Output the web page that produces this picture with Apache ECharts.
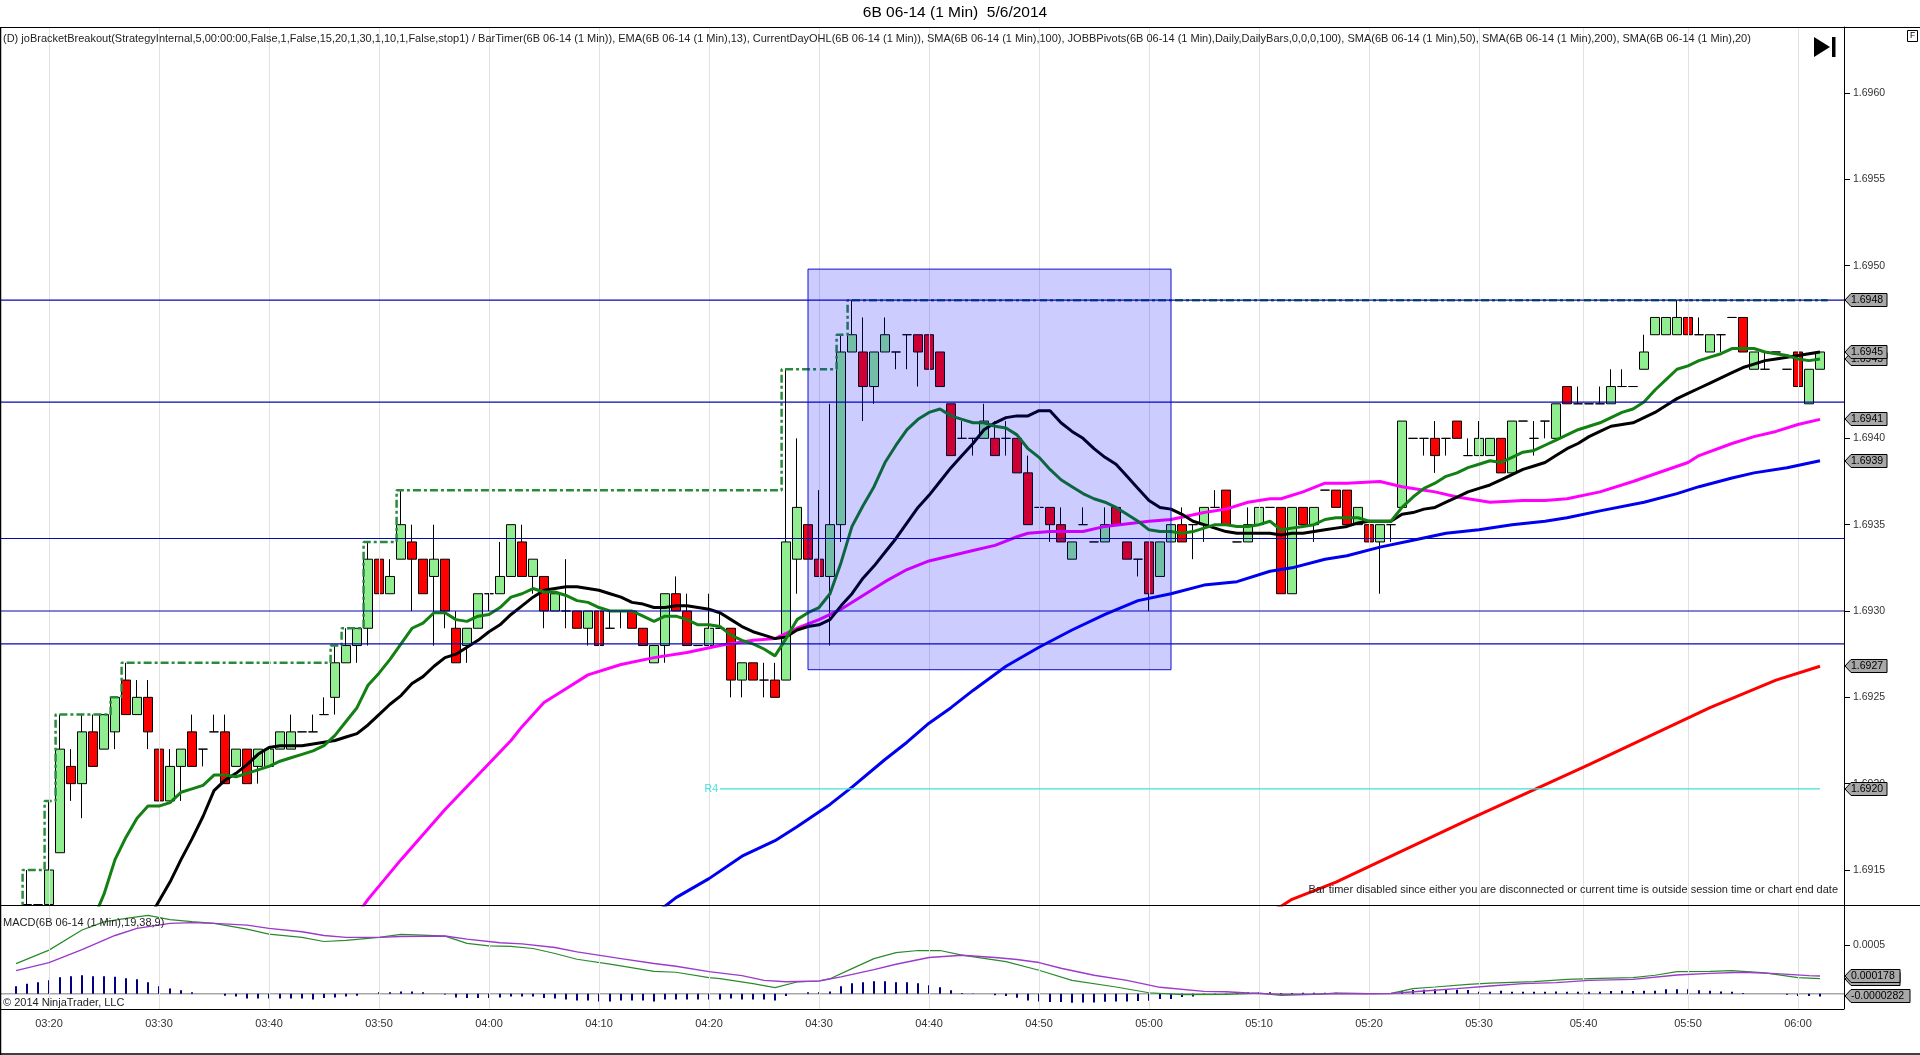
<!DOCTYPE html>
<html><head><meta charset="utf-8"><title>6B 06-14</title>
<style>html,body{margin:0;padding:0;background:#fff}#c{width:1920px;height:1055px}</style>
<script src="https://cdn.jsdelivr.net/npm/echarts@6/dist/echarts.min.js"></script></head>
<body><div id="c"></div>
<script>
// Prices are stored as offsets, in 0.0001 units, above 1.6900
const opens=[13,13,13,16,21,20,23,22,23,26,24,25,22,19,21,23,22,23,23,21,22,21,21,22,22,23,23,24,25,27,28,29,33,31,33,34,33,32,33,29,28,29,31,31,32,34,32,32,30,30,30,29,30,29,30,30,29,27,28,31,30,28,28,29,29,26,27,26,26,26,33,35,33,32,35,45,45,43,45,45,46,46,46,45,42,40,40,40,40,40,40,38,36,36,35,33,35,34,34,36,34,33,34,32,34,35,35,35,36,37,34,34,35,36,36,31,36,35,37,37,37,35,35,34,35,36,40,40,40,40,41,39,39,39,40,38,41,40,41,40,43,42,42,42,42,43,43,44,46,46,46,47,46,45,46,47,47,44,44,45,44,45,42,44];
const closes=[13,13,15,22,20,23,21,24,25,24,25,23,19,21,22,21,22,23,20,22,20,22,22,23,23,23,23,24,27,28,29,33,31,32,35,33,31,33,30,27,29,31,31,32,35,32,33,30,31,30,29,30,28,29,30,29,28,28,31,30,28,28,29,29,26,27,26,26,25,34,36,33,32,35,45,46,43,45,46,45,46,45,44,43,39,40,40,41,39,40,38,35,36,35,34,34,35,34,35,35,33,33,31,34,35,34,35,36,36,35,34,35,36,36,31,36,35,36,37,36,35,36,34,35,35,41,40,40,39,40,40,39,40,40,38,41,41,40,41,42,42,42,42,42,43,43,43,45,47,47,47,46,46,46,46,47,45,45,44,45,44,43,44,45];
const highs=[15,13,19,24,22,24,24,24,25,27,26,26,22,22,22,24,22,24,24,22,22,22,22,23,24,23,24,25,28,29,29,34,33,33,37,35,33,35,33,30,29,31,31,34,35,35,33,32,31,33,30,30,30,30,30,30,29,28,31,32,31,28,31,30,29,27,27,27,27,44,40,35,37,42,46,48,47,45,47,45,46,46,46,45,42,41,40,42,41,41,40,39,36,36,36,34,36,34,36,36,34,33,34,34,35,36,35,36,37,37,34,36,36,36,36,36,36,36,37,37,37,36,35,35,35,41,40,40,41,40,41,40,41,40,40,41,41,41,41,42,43,43,42,43,44,44,43,46,47,47,48,47,47,46,46,47,47,45,45,45,44,45,44,45];
const lows=[13,13,13,16,19,18,21,22,22,24,24,22,19,19,19,21,21,23,20,21,20,20,21,22,22,23,23,24,24,27,27,28,31,31,33,30,31,28,29,27,27,29,30,31,32,32,31,29,30,29,29,28,28,29,29,29,28,27,27,30,28,28,28,29,25,25,26,25,25,26,31,33,32,28,34,45,41,42,45,44,44,43,44,43,39,40,39,40,39,39,38,35,36,34,34,33,35,34,34,35,33,32,30,32,34,34,33,34,36,35,34,34,35,36,31,31,35,34,37,36,35,35,34,31,34,36,40,39,38,39,40,39,39,39,38,38,41,39,40,40,42,42,42,42,42,43,43,44,46,46,46,46,46,45,45,47,45,44,44,45,44,43,42,44];
const greenStart=7;
const greenLine=[12.1,13.6,15.6,16.9,18.0,18.7,18.7,18.9,19.5,19.7,19.9,20.5,20.5,20.4,20.6,20.8,21.0,21.3,21.5,21.7,21.9,22.2,22.8,23.6,24.4,25.7,26.4,27.2,28.1,29.0,29.3,29.9,29.9,29.5,29.4,29.7,29.8,30.2,30.8,31.0,31.3,31.1,31.1,30.9,30.6,30.5,30.2,30.0,30.0,30.0,29.7,29.4,29.7,29.7,29.5,29.2,29.2,29.1,28.6,28.3,28.1,27.8,27.4,28.4,29.5,29.9,30.2,31.0,32.8,34.9,36.1,37.2,38.6,39.6,40.5,41.1,41.5,41.7,41.3,41.1,40.9,40.9,40.7,40.6,40.2,39.4,38.9,38.2,37.6,37.2,36.8,36.5,36.3,36.0,35.6,35.2,34.7,34.6,34.6,34.5,34.6,34.8,35.0,35.0,34.9,34.9,35.0,35.2,34.7,34.8,34.9,35.0,35.3,35.4,35.4,35.4,35.2,35.2,35.2,36.0,36.6,37.1,37.4,37.8,38.0,38.3,38.5,38.7,38.6,38.9,39.2,39.3,39.6,39.9,40.2,40.5,40.7,40.9,41.2,41.5,41.7,42.1,42.8,43.4,44.0,44.2,44.5,44.7,44.9,45.2,45.2,45.2,45.0,44.9,44.8,44.6,44.5,44.6];
const blackStart=12;
const blackLine=[12.1,13.2,14.3,15.6,16.8,18.1,19.6,20.2,20.6,21.1,21.7,22.1,22.2,22.2,22.2,22.3,22.4,22.5,22.7,22.9,23.4,24.0,24.6,25.1,25.8,26.2,26.8,27.3,27.5,27.9,28.3,28.8,29.2,29.8,30.3,30.8,31.2,31.3,31.4,31.4,31.3,31.2,31.0,30.8,30.5,30.4,30.2,30.2,30.3,30.3,30.2,30.1,29.9,29.5,29.1,28.8,28.6,28.4,28.5,28.9,29.1,29.2,29.5,30.3,31.0,31.9,32.6,33.4,34.2,35.1,36.0,36.7,37.5,38.3,39.0,39.7,40.5,40.9,41.2,41.3,41.3,41.6,41.6,40.9,40.4,40.0,39.4,38.9,38.5,37.8,37.1,36.4,36.0,35.9,35.6,35.2,35.0,34.8,34.6,34.5,34.5,34.5,34.5,34.4,34.5,34.5,34.6,34.7,34.8,34.9,35.1,35.2,35.2,35.2,35.6,35.7,35.9,36.0,36.3,36.6,36.9,37.1,37.3,37.6,37.9,38.2,38.4,38.6,39.0,39.4,39.7,40.1,40.4,40.7,40.8,40.9,41.2,41.5,41.9,42.3,42.6,42.9,43.2,43.5,43.8,44.1,44.3,44.5,44.6,44.7,44.8,44.9,45.0];
const magentaSlots=[31,32,35,39,42,45,46,48,50,52,55,58,61,64,67,69,71,73,75,77,79,81,83,85,87,89,91,92,94,97,99,103,105,108,110,112,114,115,117,119,121,124,126,127,129,131,134,137,139,141,144,147,152,153,156,158,160,162,164];
const magentaLine=[12.4,13.3,15.6,18.5,20.5,22.5,23.3,24.7,25.5,26.3,26.9,27.3,27.6,28.0,28.3,28.4,29.0,29.5,30.1,30.9,31.7,32.4,32.9,33.2,33.5,33.8,34.3,34.5,34.6,34.6,34.9,35.2,35.3,35.7,35.9,36.3,36.5,36.5,36.9,37.4,37.4,37.5,37.2,37.1,36.9,36.6,36.3,36.4,36.4,36.5,36.9,37.5,38.6,39.0,39.7,40.1,40.4,40.8,41.1];
const blueSlots=[58,59,60,63,66,69,71,74,76,79,81,83,85,87,90,93,96,99,102,105,108,111,114,116,119,121,124,127,130,133,136,139,141,144,148,151,153,156,158,161,164];
const blueLine=[12.5,12.9,13.4,14.5,15.8,16.7,17.5,18.8,19.8,21.4,22.4,23.5,24.4,25.4,26.8,27.9,28.9,29.8,30.6,31.0,31.5,31.7,32.3,32.5,33.0,33.2,33.7,34.1,34.5,34.7,35.0,35.2,35.4,35.8,36.3,36.8,37.2,37.7,38.0,38.3,38.7];
const redSlots=[114,115,116,120,124,132,143,154,160,164];
const redLine=[12.6,12.9,13.3,14.3,15.5,17.9,21.1,24.4,26.0,26.8];
const dayHighSlots=[-0.4,0.6,2.6,3.6,8.6,9.6,28.6,29.6,31.6,34.6,69.6,74.6,75.6,164.7];
const dayHigh=[12,15,19,24,25,27,28,29,34,37,44,46,48,48];
const pivotLevels=[1.6948,1.69421,1.69342,1.6930,1.69281];
const r4Level=1.69197, r4Slots=[64,164];
const rangeSlots=[72,105], rangePrices=[1.69266,1.69498];
const yTicks=[1.6915,1.692,1.6925,1.693,1.6935,1.694,1.6945,1.695,1.6955,1.696];
const macdTicks=[0.0005];
const timeSlots=[3,13,23,33,43,53,63,73,83,93,103,113,123,133,142.5,152,162];
const timeLabels=['03:20','03:30','03:40','03:50','04:00','04:10','04:20','04:30','04:40','04:50','05:00','05:10','05:20','05:30','05:40','05:50','06:00'];
const priceTags=[1.6948,1.69446,1.6945,1.69411,1.69387,1.69268,1.69197];
const priceTagText=['1.6948','1.6945','1.6945','1.6941','1.6939','1.6927','1.6920'];
const macdTags=[0.000155,0.000178,-0.0000282];
const macdTagText=['0.000155','0.000178','-0.0000282'];
// MACD panel values in 0.0001 units
const macdSlots=[0,3,6,8,10,12,14,16,18,21,23,26,28,30,33,35,37,39,41,43,45,47,49,51,54,58,60,63,64,67,69,71,73,74,76,78,80,82,84,86,90,93,96,100,103,106,110,113,115,118,120,123,125,127,129,132,134,138,141,144,147,149,151,154,156,159,162,164];
const macdLine=[3.1,4.49,6.56,7.4,7.76,8.07,7.63,7.42,7.25,6.66,6.14,5.8,5.38,5.49,5.8,6.11,6.04,5.94,5.18,4.93,4.87,4.66,4.14,3.55,3.04,2.31,2.21,1.66,1.55,1.04,0.62,1.21,1.31,1.55,2.59,3.62,4.24,4.45,4.45,3.97,3.31,2.42,1.38,0.69,0.10,-0.1,-0.07,0.07,-0.17,-0.07,0.07,0,0.03,0.52,0.69,0.97,1.1,1.24,1.48,1.59,1.66,1.9,2.28,2.31,2.38,2.14,1.66,1.55];
const avgSlots=[0,3,6,9,11,14,16,18,21,23,26,28,30,33,35,39,41,44,46,49,51,55,58,60,63,66,68,70,73,75,78,80,83,86,89,91,93,95,98,101,104,108,110,112,115,118,120,123,125,128,131,134,137,140,143,147,151,154,157,160,163,164];
const avgLine=[2.38,3.21,4.55,6.0,6.73,7.25,7.32,7.25,7.07,6.73,6.38,6.0,5.8,5.8,5.9,5.94,5.62,5.25,5.14,4.76,4.31,3.62,3.11,2.83,2.28,1.86,1.38,1.24,1.31,1.73,2.48,3.04,3.73,3.97,3.73,3.52,3.21,2.62,1.9,1.38,0.66,0.24,0.21,0.07,-0.07,-0.07,0.03,0,0.03,0.28,0.52,0.79,1.04,1.14,1.38,1.48,1.93,2.1,2.21,2.07,1.86,1.83];
const histValues=[0.76,1.04,1.17,1.38,1.69,1.79,1.9,1.79,1.79,1.76,1.59,1.48,1.17,0.76,0.55,0.35,0.14,0,0,-0.2,-0.28,-0.48,-0.48,-0.48,-0.48,-0.48,-0.48,-0.59,-0.45,-0.38,-0.28,-0.2,0,0.14,0.14,0.24,0.24,0.14,0,-0.07,-0.38,-0.45,-0.45,-0.45,-0.38,-0.28,-0.28,-0.28,-0.45,-0.48,-0.59,-0.69,-0.69,-0.79,-0.79,-0.69,-0.69,-0.69,-0.79,-0.59,-0.59,-0.59,-0.59,-0.59,-0.59,-0.48,-0.59,-0.59,-0.59,-0.69,-0.24,0,0.14,0.14,0.24,0.76,1.07,1.17,1.28,1.28,1.17,1.17,1.07,0.86,0.66,0.35,0.07,0.03,0,-0.17,-0.24,-0.41,-0.69,-0.79,-0.86,-0.86,-0.93,-0.9,-0.9,-0.83,-0.79,-0.79,-0.76,-0.72,-0.55,-0.55,-0.35,-0.28,-0.14,-0.03,0.03,0.1,0.14,0.14,0.14,0.07,0.07,0.1,0.1,0.1,0.1,0.07,0.07,0.07,0.07,0.07,0.28,0.38,0.41,0.45,0.48,0.41,0.38,0.21,0.21,0.31,0.21,0.21,0.21,0.21,0.24,0.21,0.21,0.21,0.21,0.28,0.31,0.28,0.3,0.31,0.45,0.45,0.45,0.35,0.31,0.24,0.21,0.07,0,0,0,-0.1,-0.24,-0.24,-0.28];

const FONT='"Liberation Sans",Arial,sans-serif';
const xMin=-16/11, xMax=1828/11;
const px=v=>(16900+v)/10000;
const e4=v=>v/10000;
const candles=opens.map((o,i)=>[i+1,px(o),px(closes[i]),px(lows[i]),px(highs[i])]);
const seq=(start,arr,f)=>arr.map((v,i)=>[start+i,f(v)]);
const pairs=(sl,arr,f)=>arr.map((v,i)=>[sl[i],f(v)]);
const lineS=(name,data,color,width,z,extra)=>Object.assign({name,type:'line',data,showSymbol:false,symbol:'none',silent:true,animation:false,z,lineStyle:{color,width}},extra||{});

function tagSeries(name,xIdx,yIdx,vals,texts,rightEdges){
  return {type:'custom',name,xAxisIndex:xIdx,yAxisIndex:yIdx,silent:true,animation:false,z:20,clip:false,
    data:vals.map((v,i)=>[i,v]),encode:{x:-1,y:1},
    renderItem(p,api){
      const i=api.value(0), pt=api.coord([xMax,api.value(1)]);
      const x=pt[0]+1,y=Math.round(pt[1]),w=rightEdges(texts[i]);
      return {type:'group',children:[
        {type:'polygon',shape:{points:[[x,y],[x+6,y-6.5],[x+w,y-6.5],[x+w,y+6.5],[x+6,y+6.5]]},style:{fill:'#a8a8a8',stroke:'#000',lineWidth:1}},
        {type:'text',style:{text:texts[i],x:x+6,y:y,font:'10.5px '+FONT,fill:'#000',textVerticalAlign:'middle',textAlign:'left'}}
      ]};
    }};
}
const gridStyle={color:'#e2e2e2',width:1,type:'solid'};
const gridSeries=(idx,vals,key)=>({type:'line',name:'grid'+idx+key,xAxisIndex:idx,yAxisIndex:idx,data:[],silent:true,animation:false,z:1,
  markLine:{silent:true,animation:false,symbol:'none',label:{show:false},lineStyle:gridStyle,data:vals.map(v=>({[key]:v}))}});

const series=[
 gridSeries(0,timeSlots,'xAxis'),gridSeries(0,yTicks,'yAxis'),gridSeries(1,timeSlots,'xAxis'),
 {type:'candlestick',name:'6B',xAxisIndex:0,yAxisIndex:0,data:candles,barWidth:9,silent:true,animation:false,z:3,clip:true,
  itemStyle:{color:'#90ee90',color0:'#ff0000',borderColor:'#000',borderColor0:'#000',borderColorDoji:'#000',borderWidth:1}},
 lineS('Day high',pairs(dayHighSlots,dayHigh,px),'#2a8b3c',2.5,4,{step:'end',lineStyle:{color:'#2a8b3c',width:2.5,type:[8,3,3,3]}}),
 lineS('SMA 200',pairs(redSlots,redLine,px),'#ff0000',3,5),
 lineS('SMA 100',pairs(blueSlots,blueLine,px),'#0000f0',3,5),
 lineS('SMA 50',pairs(magentaSlots,magentaLine,px),'#ff00ff',3,5),
 lineS('SMA 20',seq(blackStart,blackLine,px),'#000000',3,6),
 lineS('EMA 13',seq(greenStart,greenLine,px),'#128012',3,7),
 lineS('R4',r4Slots.map(s=>[s,r4Level]),'#40e0d8',1.2,8),
 {type:'custom',name:'R4 label',silent:true,animation:false,z:8,data:[[r4Slots[0],r4Level]],
  renderItem(p,api){const pt=api.coord([api.value(0),api.value(1)]);
   return {type:'text',style:{text:'R4',x:pt[0]-2,y:pt[1],font:'10.5px '+FONT,fill:'#40e0d8',textAlign:'right',textVerticalAlign:'middle'}};}},
 ...pivotLevels.map((v,i)=>lineS('Pivot '+i,[[xMin,v],[xMax,v]],'#0808b0',1.2,9)),
 {type:'custom',name:'Range',silent:true,animation:false,z:10,clip:true,
  data:[[rangeSlots[0],rangePrices[0],rangeSlots[1],rangePrices[1]]],
  renderItem(p,api){const a=api.coord([api.value(0),api.value(1)]),b=api.coord([api.value(2),api.value(3)]);
   return {type:'rect',shape:{x:a[0],y:b[1],width:b[0]-a[0],height:a[1]-b[1]},style:{fill:'rgba(0,0,255,0.2)',stroke:'#1010d0',lineWidth:1}};}},
 tagSeries('Price tags',0,0,priceTags,priceTagText,()=>42),
 lineS('MACD zero',[[xMin,0],[xMax,0]],'#a8a8a8',1.5,2,{xAxisIndex:1,yAxisIndex:1}),
 {type:'bar',name:'MACD diff',xAxisIndex:1,yAxisIndex:1,barWidth:2,silent:true,animation:false,z:3,
  data:histValues.map((v,i)=>[i,e4(v)]),itemStyle:{color:'#000080'}},
 lineS('MACD',pairs(macdSlots,macdLine,e4),'#2b8b2b',1.2,4,{xAxisIndex:1,yAxisIndex:1}),
 lineS('Avg',pairs(avgSlots,avgLine,e4),'#9b3acb',1.4,5,{xAxisIndex:1,yAxisIndex:1}),
 tagSeries('MACD tags',1,1,macdTags,macdTagText,t=>t.length>8?65:55)
];

const txt=(text,x,y,size,extra)=>({type:'text',z:30,silent:true,style:Object.assign({text,x,y,font:size+'px '+FONT,fill:'#222',textVerticalAlign:'middle'},extra||{})});
const rule=(x1,y1,x2,y2,w)=>({type:'line',z:29,silent:true,shape:{x1,y1,x2,y2},style:{stroke:'#000',lineWidth:w||1}});

const option={
 animation:false,backgroundColor:'#fff',
 grid:[{left:0,right:76,top:27,height:878},{left:0,right:76,top:905,height:104}],
 xAxis:[
  {type:'value',gridIndex:0,min:xMin,max:xMax,axisLine:{show:false},axisTick:{show:false},axisLabel:{show:false},splitLine:{show:false}},
  {type:'value',gridIndex:1,min:xMin,max:xMax,axisLine:{show:false},axisTick:{show:false},
   axisLabel:{customValues:timeSlots,margin:9,color:'#333',fontFamily:FONT,fontSize:11,formatter:v=>timeLabels[timeSlots.indexOf(v)]||''},
   splitLine:{show:false}}
 ],
 yAxis:[
  {type:'value',gridIndex:0,position:'right',min:1.693-294/172667,max:1.693+584/172667,
   axisLine:{show:true,onZero:false,lineStyle:{color:'#000'}},axisTick:{show:true,length:6,customValues:yTicks,lineStyle:{color:'#000'}},
   axisLabel:{customValues:yTicks,margin:9,color:'#333',fontFamily:FONT,fontSize:10.5,formatter:v=>v.toFixed(4)},
   splitLine:{show:false}},
  {type:'value',gridIndex:1,position:'right',min:-15.74e-5,max:91.4e-5,
   axisLine:{show:true,onZero:false,lineStyle:{color:'#000'}},axisTick:{show:true,length:6,customValues:macdTicks,lineStyle:{color:'#000'}},
   axisLabel:{customValues:macdTicks,margin:9,color:'#333',fontFamily:FONT,fontSize:10.5,formatter:v=>v.toFixed(4)},
   splitLine:{show:false}}
 ],
 series,
 graphic:[
  txt('6B 06-14 (1 Min)  5/6/2014',955,13,15.5,{textAlign:'center',fill:'#000'}),
  txt('(D) joBracketBreakout(StrategyInternal,5,00:00:00,False,1,False,15,20,1,30,1,10,1,False,stop1) / BarTimer(6B 06-14 (1 Min)), EMA(6B 06-14 (1 Min),13), CurrentDayOHL(6B 06-14 (1 Min)), SMA(6B 06-14 (1 Min),100), JOBBPivots(6B 06-14 (1 Min),Daily,DailyBars,0,0,0,100), SMA(6B 06-14 (1 Min),50), SMA(6B 06-14 (1 Min),200), SMA(6B 06-14 (1 Min),20)',3,39,11),
  txt('Bar timer disabled since either you are disconnected or current time is outside session time or chart end date',1838,890,11,{textAlign:'right'}),
  txt('MACD(6B 06-14 (1 Min),19,38,9)',3,923,11),
  txt('© 2014 NinjaTrader, LLC',3,1003,11),
  rule(0,27.5,1920,27.5,1.2),rule(0,905.5,1920,905.5,1.2),rule(0,1009.5,1844,1009.5,1.2),rule(0,1054,1920,1054,1.4),rule(0.5,27,0.5,1055,1.5),
  {type:'polygon',z:30,silent:true,shape:{points:[[1814,37],[1830,47],[1814,57]]},style:{fill:'#000'}},
  {type:'rect',z:30,silent:true,shape:{x:1832,y:37,width:3.5,height:20},style:{fill:'#000'}},
  {type:'rect',z:30,silent:true,shape:{x:1907.5,y:30.5,width:10,height:11},style:{fill:'#fff',stroke:'#000',lineWidth:1}},
  txt('F',1912.5,36,8.5,{textAlign:'center',fill:'#000'})
 ]
};
echarts.init(document.getElementById('c'),null,{renderer:'canvas'}).setOption(option);
</script></body></html>
